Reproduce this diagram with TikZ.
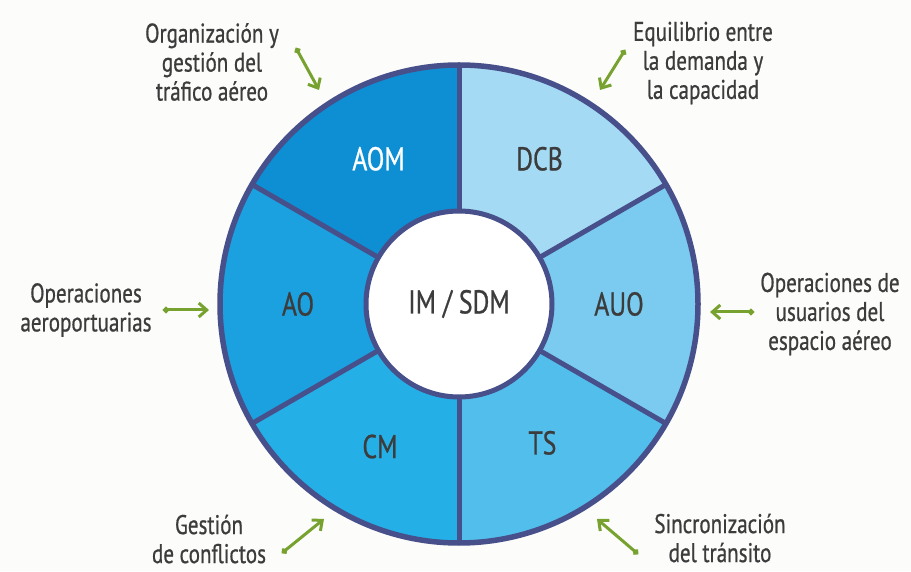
\documentclass[tikz,border=0pt]{standalone}
\usepackage{fontspec}
\setmainfont{PT Sans}[FakeStretch=0.78, FakeBold=0.7]
\usetikzlibrary{arrows.meta}
\definecolor{bg}{HTML}{FCFCFA}
\definecolor{ring}{HTML}{47508A}
\definecolor{txt}{HTML}{3C3C3C}
\definecolor{arr}{HTML}{78A22F}
\definecolor{cAOM}{HTML}{0E8FD3}
\definecolor{cAO}{HTML}{1BA0E0}
\definecolor{cCM}{HTML}{25AFE7}
\definecolor{cTS}{HTML}{52BEEC}
\definecolor{cAUO}{HTML}{7BCBF0}
\definecolor{cDCB}{HTML}{A5DAF4}
\tikzset{
  seglabel/.style={font=\fontsize{33}{33}\selectfont, text=txt, inner sep=0pt},
  outlabel/.style={font=\fontsize{27}{29}\selectfont, text=txt, align=center, inner sep=0pt},
  greenarrow/.style={draw=arr, line width=3pt, {Circle[length=6pt]}-{Straight Barb[length=8pt,width=14pt,line width=3pt]}},
  divider/.style={draw=ring, line width=5pt},
}
\begin{document}
\begin{tikzpicture}[x=1pt,y=1pt]
\fill[bg] (0,0) rectangle (911,571);
\useasboundingbox (0,0) rectangle (911,571);
\coordinate (C) at (459,267);
% sectors
\fill[cDCB] (C) -- ++(30:239pt) arc[start angle=30,end angle=90,radius=239pt] -- cycle;
\fill[cAOM] (C) -- ++(90:239pt) arc[start angle=90,end angle=150,radius=239pt] -- cycle;
\fill[cAO] (C) -- ++(150:239pt) arc[start angle=150,end angle=210,radius=239pt] -- cycle;
\fill[cCM] (C) -- ++(210:239pt) arc[start angle=210,end angle=270,radius=239pt] -- cycle;
\fill[cTS] (C) -- ++(270:239pt) arc[start angle=270,end angle=330,radius=239pt] -- cycle;
\fill[cAUO] (C) -- ++(330:239pt) arc[start angle=330,end angle=390,radius=239pt] -- cycle;
\fill[white] (C) circle[radius=93pt];
\foreach \a in {30,90,150,210,270,330}
  \draw[divider] ([shift={(\a:93pt)}]C) -- ([shift={(\a:239pt)}]C);
\draw[ring, line width=5.5pt] (C) circle[radius=239pt];
\draw[ring, line width=5pt] (C) circle[radius=93pt];
% segment labels
\node[seglabel] (center) at (C) {IM / SDM};
\node[seglabel, text=white] (aom) at ([shift={(119:166pt)}]C) {AOM};
\node[seglabel] (dcb) at ([shift={(61:166pt)}]C) {DCB};
\node[seglabel] (ao) at ([shift={(180:161pt)}]C) {AO};
\node[seglabel] (auo) at ([shift={(0:160pt)}]C) {AUO};
\node[seglabel] (cm) at ([shift={(241:163pt)}]C) {CM};
\node[seglabel] (ts) at ([shift={(301:162pt)}]C) {TS};
% outer labels
\node[outlabel] (lAOM) at (212,571-62) {Organización y\\gestión del\\tráfico aéreo};
\node[outlabel] (lDCB) at (703,571-63) {Equilibrio entre\\la demanda y\\la capacidad};
\node[outlabel] (lAO) at (86,571-310) {Operaciones\\aeroportuarias};
\node[outlabel] (lAUO) at (830,571-314) {Operaciones de\\usuarios del\\espacio aéreo};
\node[outlabel] (lCM) at (209,571-539) {Gestión\\de conflictos};
\node[outlabel] (lTS) at (720,571-538) {Sincronización\\del tránsito};
% arrows
\coordinate (aT) at (296,571-48);  \coordinate (aH) at (319,571-90);
\coordinate (bT) at (625,571-50);  \coordinate (bH) at (600,571-90);
\coordinate (cT) at (163,571-310); \coordinate (cH) at (209,571-310);
\coordinate (dT) at (754,571-312); \coordinate (dH) at (710,571-312);
\coordinate (eT) at (282,571-553); \coordinate (eH) at (324,571-519);
\coordinate (fT) at (638,571-554); \coordinate (fH) at (597,571-519);
\draw[greenarrow] (aT) -- (aH);
\draw[greenarrow] (bT) -- (bH);
\draw[greenarrow] (cT) -- (cH);
\draw[greenarrow] (dT) -- (dH);
\draw[greenarrow] (eT) -- (eH);
\draw[greenarrow] (fT) -- (fH);
\end{tikzpicture}
\end{document}
